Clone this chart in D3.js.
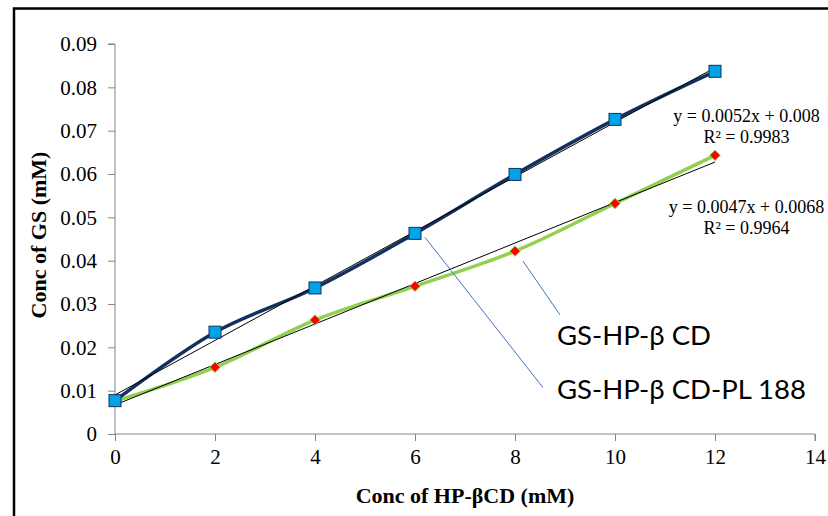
<!DOCTYPE html>
<html>
<head>
<meta charset="utf-8">
<script src="https://cdn.jsdelivr.net/npm/d3@7"></script>
<style>
  body { margin: 0; background: #fff; }
  svg text { font-family: "Liberation Serif", "Times New Roman", serif; }
</style>
</head>
<body>
<div id="chart-container"></div>
<script>
// data
const xValues = [0, 2, 4, 6, 8, 10, 12];
const gsHpbcd = [0.0077, 0.0235, 0.0337, 0.0463, 0.0599, 0.0726, 0.0837];
const gsHpbcdPl = [0.0076, 0.0154, 0.0263, 0.0341, 0.0422, 0.0532, 0.0643];
const xTicks = [0, 2, 4, 6, 8, 10, 12, 14];
const yTicks = [0, 0.01, 0.02, 0.03, 0.04, 0.05, 0.06, 0.07, 0.08, 0.09];
const eqLabels = [
    ["y = 0.0052x + 0.008", "R² = 0.9983"],
    ["y = 0.0047x + 0.0068", "R² = 0.9964"]
];
const seriesNames = ["GS-HP-β CD", "GS-HP-β CD-PL 188"];

function linFit(xs, ys) {
    const mx = d3.mean(xs), my = d3.mean(ys);
    let num = 0, den = 0;
    xs.forEach((x, i) => { num += (x - mx) * (ys[i] - my); den += (x - mx) * (x - mx); });
    const b = num / den;
    return { b: b, a: my - b * mx };
}

function drawChart() {
    const W = 828, H = 516;
    const margin = { top: 44, right: 13, bottom: 82, left: 115 };
    const width = W - margin.left - margin.right;
    const height = H - margin.top - margin.bottom;

    const svg = d3.select("#chart-container")
        .append("svg")
        .attr("width", W)
        .attr("height", H);

    // outer frame, runs off the right and bottom edges
    svg.append("rect")
        .attr("x", 14).attr("y", 8.5)
        .attr("width", W + 10).attr("height", H + 10)
        .attr("fill", "none")
        .attr("stroke", "#000")
        .attr("stroke-width", 2.5);

    const g = svg.append("g")
        .attr("transform", `translate(${margin.left},${margin.top})`);

    const x = d3.scaleLinear().domain([0, 14]).range([0, width]);
    const y = d3.scaleLinear().domain([0, 0.09]).range([height, 0]);

    const xAxis = g.append("g")
        .attr("transform", `translate(0,${height})`)
        .call(d3.axisBottom(x).tickValues(xTicks).tickSize(7).tickPadding(8).tickFormat(d3.format("d")));
    const yAxis = g.append("g")
        .call(d3.axisLeft(y).tickValues(yTicks).tickSize(7).tickPadding(11).tickFormat(d => d === 0 ? "0" : d3.format(".2f")(d)));

    [xAxis, yAxis].forEach(ax => {
        ax.selectAll("path, line").attr("stroke", "#868686").attr("stroke-width", 1);
        ax.selectAll("text").attr("font-size", 21).attr("fill", "#000")
            .style("font-family", "'Liberation Serif', serif");
    });
    yAxis.select(".domain").attr("d", `M0,${height}V0H-7`);
    xAxis.select(".domain").attr("d", `M0,0H${width}V7`);

    // axis titles
    g.append("text")
        .attr("x", width / 2 - 0)
        .attr("y", height + 69)
        .attr("text-anchor", "middle")
        .attr("font-weight", "bold")
        .attr("font-size", 22)
        .text("Conc of HP-βCD (mM)");
    g.append("text")
        .attr("transform", `translate(${-69},${height / 2 - 4}) rotate(-90)`)
        .attr("text-anchor", "middle")
        .attr("font-weight", "bold")
        .attr("font-size", 22)
        .text("Conc of GS (mM)");

    const line = d3.line()
        .x((d, i) => x(xValues[i]))
        .y(d => y(d))
        .curve(d3.curveCatmullRom.alpha(0.5));

    // green series line
    g.append("path")
        .datum(gsHpbcdPl)
        .attr("fill", "none")
        .attr("stroke", "#92D050")
        .attr("stroke-width", 3.5)
        .attr("d", line);

    // blue series line
    g.append("path")
        .datum(gsHpbcd)
        .attr("fill", "none")
        .attr("stroke", "#14305E")
        .attr("stroke-width", 3.5)
        .attr("d", line);

    // linear trendlines
    [gsHpbcd, gsHpbcdPl].forEach(vals => {
        const f = linFit(xValues, vals);
        const x0 = d3.min(xValues), x1 = d3.max(xValues);
        g.append("line")
            .attr("x1", x(x0)).attr("y1", y(f.a + f.b * x0))
            .attr("x2", x(x1)).attr("y2", y(f.a + f.b * x1))
            .attr("stroke", "#000")
            .attr("stroke-width", 1);
    });

    // leader lines (as in the source, they cross)
    const leaders = [
        { from: [6, gsHpbcd[3]], dx: 10, dy: 4, to: [8.56, 0.0107] },
        { from: [8, gsHpbcdPl[4]], dx: 8, dy: 10, to: [8.9, 0.0275] }
    ];
    leaders.forEach(l => {
        g.append("line")
            .attr("x1", x(l.from[0]) + l.dx).attr("y1", y(l.from[1]) + l.dy)
            .attr("x2", x(l.to[0])).attr("y2", y(l.to[1]))
            .attr("stroke", "#4472C4")
            .attr("stroke-width", 1);
    });

    // markers: red diamonds
    g.selectAll(".dia")
        .data(gsHpbcdPl)
        .join("path")
        .attr("class", "dia")
        .attr("transform", (d, i) => `translate(${x(xValues[i])},${y(d)})`)
        .attr("d", d3.symbol(d3.symbolDiamond2, 70)())
        .attr("fill", "#FF0000")
        .attr("stroke", "#92D050")
        .attr("stroke-width", 1);

    // markers: blue squares
    g.selectAll(".sq")
        .data(gsHpbcd)
        .join("rect")
        .attr("class", "sq")
        .attr("x", (d, i) => x(xValues[i]) - 6)
        .attr("y", d => y(d) - 6)
        .attr("width", 12).attr("height", 12)
        .attr("fill", "#00A2E8")
        .attr("stroke", "#14305E")
        .attr("stroke-width", 1);

    // equation labels
    const eqPos = [[12.63, 0.0721], [12.63, 0.0511]];
    eqLabels.forEach((lines, k) => {
        lines.forEach((t, j) => {
            g.append("text")
                .attr("x", x(eqPos[k][0]))
                .attr("y", y(eqPos[k][1]) + j * 21)
                .attr("text-anchor", "middle")
                .attr("font-size", 18)
                .text(t);
        });
    });

    // series labels
    const namePos = [[8.84, 0.0205], [8.84, 0.0081]];
    seriesNames.forEach((t, k) => {
        g.append("text")
            .attr("x", x(namePos[k][0]))
            .attr("y", y(namePos[k][1]))
            .attr("font-size", 27.5)
            .style("font-family", "Lato, 'Open Sans', sans-serif")
            .text(t);
    });
}

document.addEventListener('DOMContentLoaded', drawChart);
</script>
</body>
</html>
